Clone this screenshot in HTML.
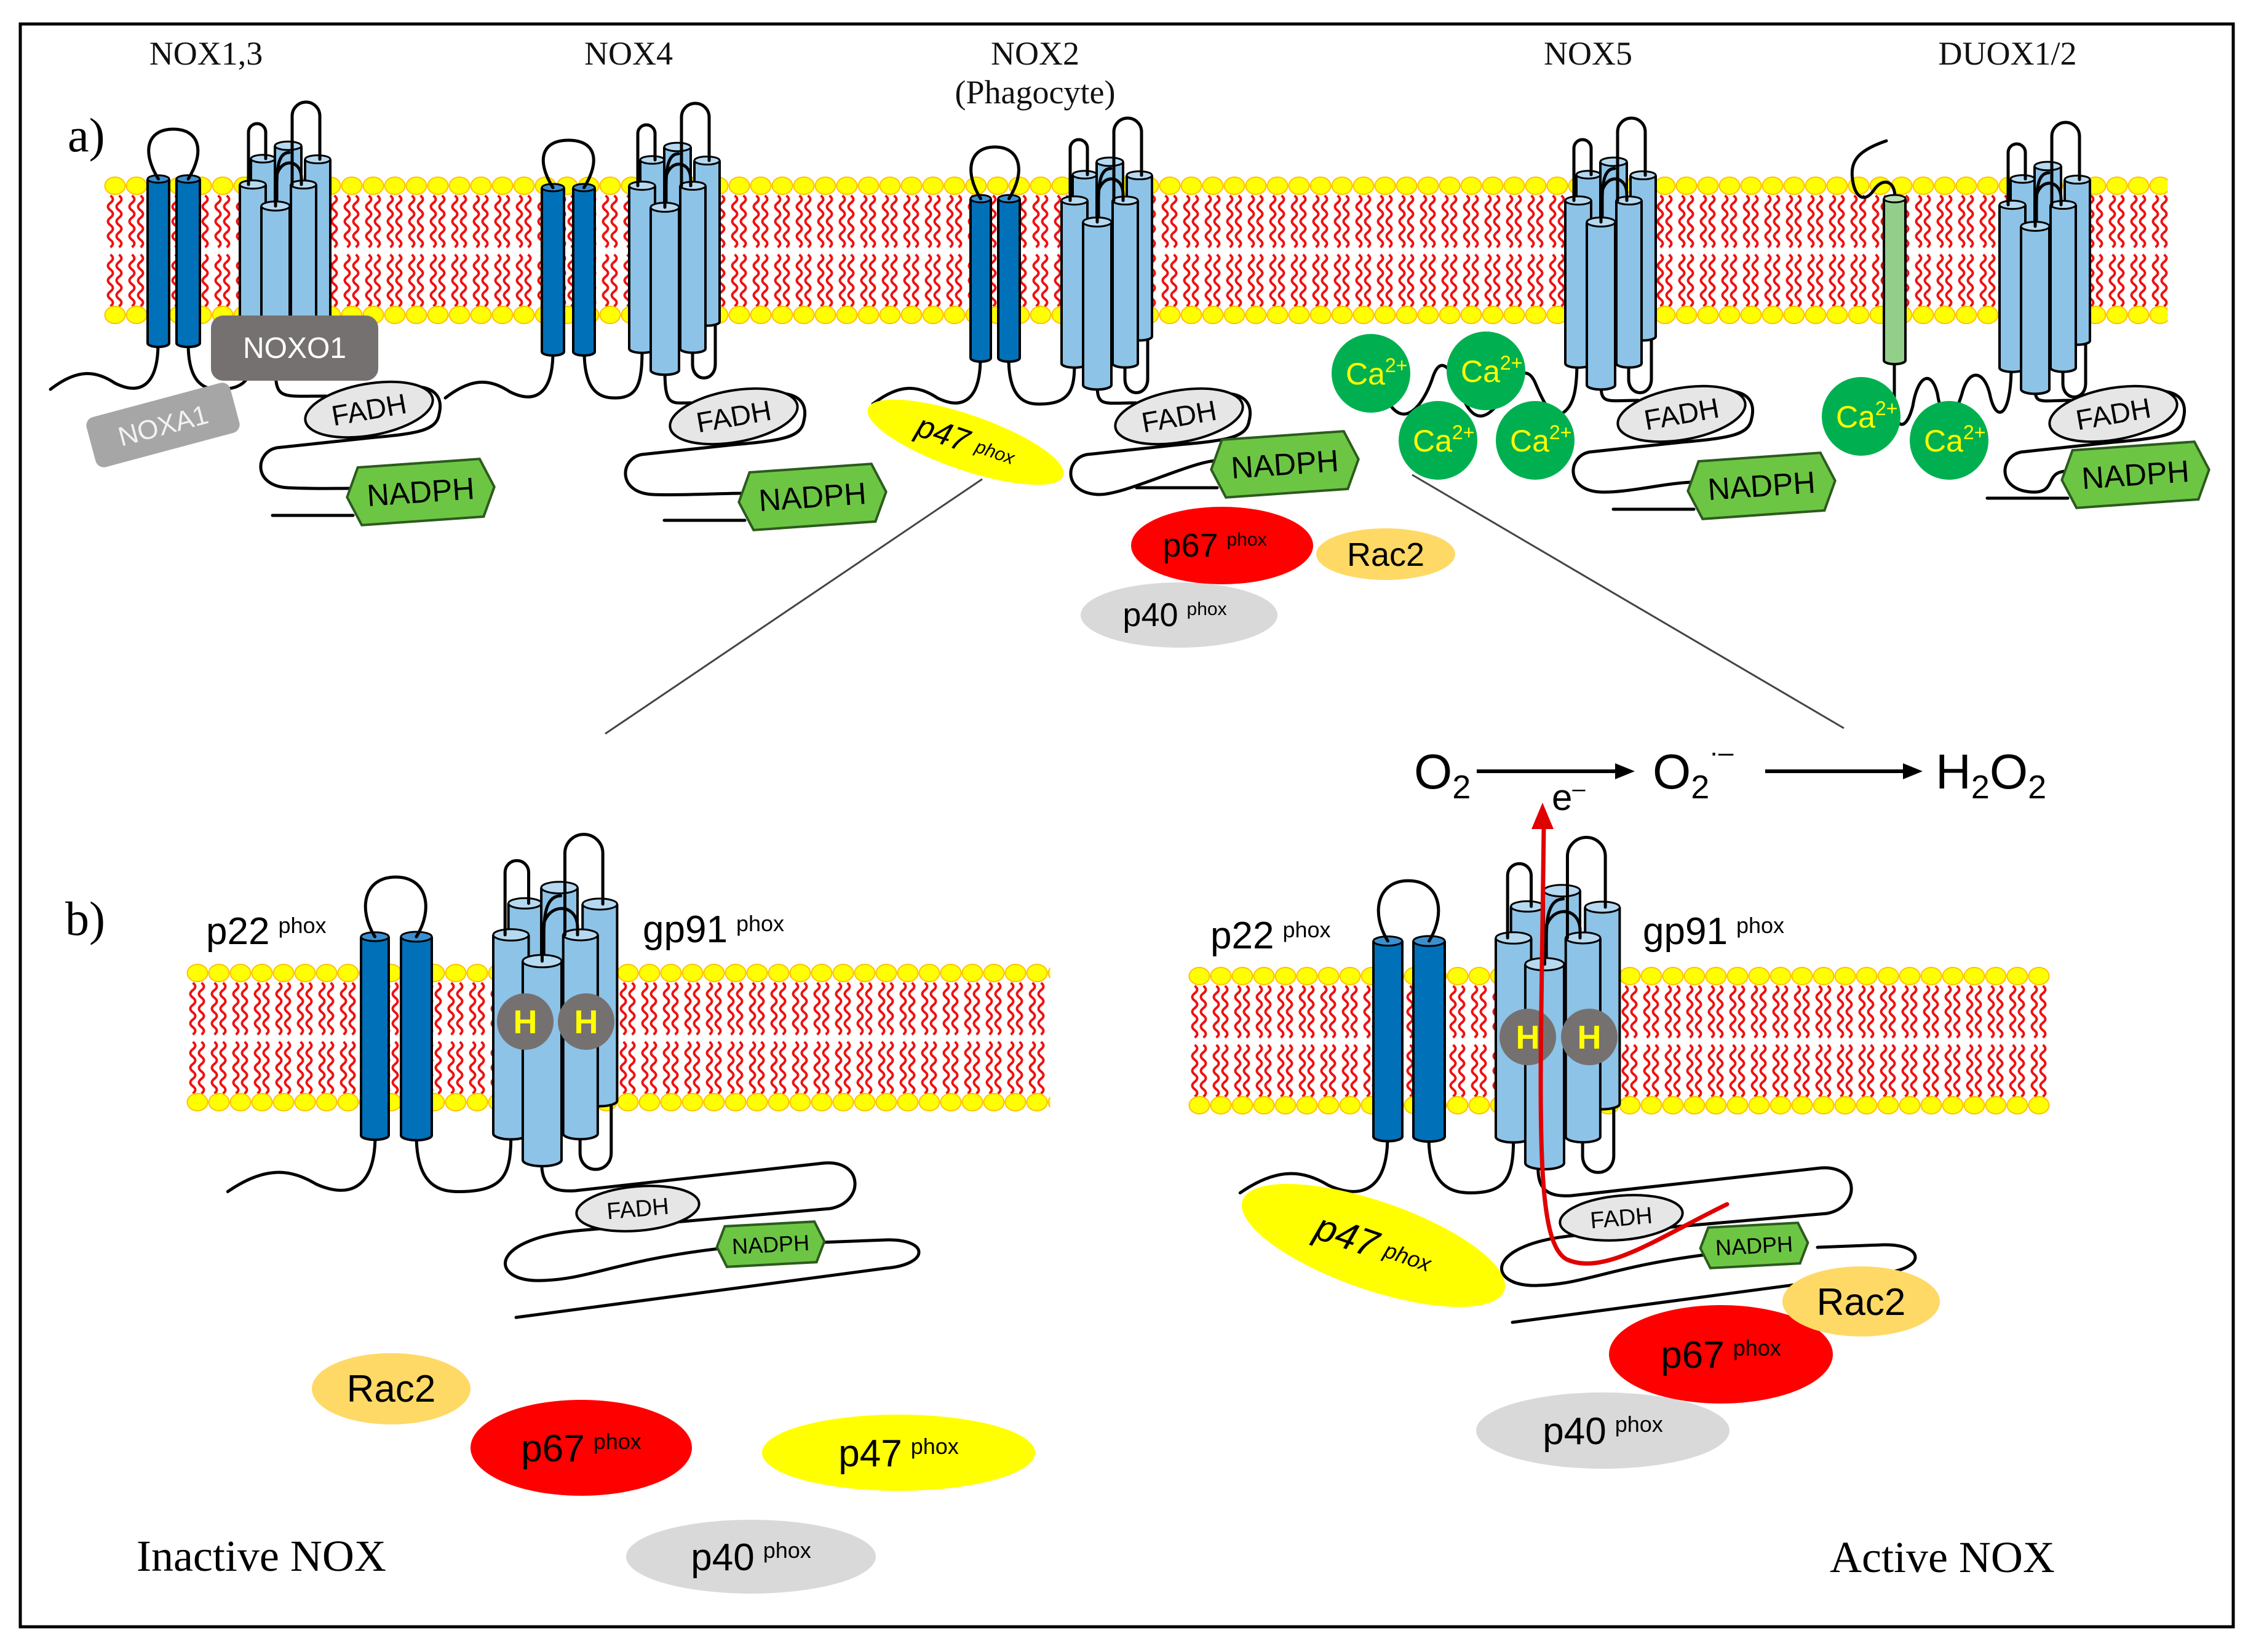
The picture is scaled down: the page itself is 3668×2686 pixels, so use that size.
<!DOCTYPE html>
<html><head><meta charset="utf-8">
<style>
html,body{margin:0;padding:0;background:#fff;}
svg{display:block;}
.sr{font-family:"Liberation Serif",serif;}
.ss{font-family:"Liberation Sans",sans-serif;}
</style></head>
<body>
<svg id="root" xmlns="http://www.w3.org/2000/svg" width="3668" height="2686" viewBox="0 0 3668 2686">
<defs>
<pattern id="mem" patternUnits="userSpaceOnUse" x="0" y="0" width="35" height="250">
<path d="M10 36 q8 6 0 12 q-8 6 0 12 q8 6 0 12 q-8 6 0 12 q8 6 0 12 q-8 6 0 12 q8 6 0 12 M24 36 q8 6 0 12 q-8 6 0 12 q8 6 0 12 q-8 6 0 12 q8 6 0 12 q-8 6 0 12 q8 6 0 12 M10 132 q8 6 0 12 q-8 6 0 12 q8 6 0 12 q-8 6 0 12 q8 6 0 12 q-8 6 0 12 q8 6 0 12 M24 132 q8 6 0 12 q-8 6 0 12 q8 6 0 12 q-8 6 0 12 q8 6 0 12 q-8 6 0 12 q8 6 0 12" fill="none" stroke="#ee1111" stroke-width="4"/>
<ellipse cx="17.5" cy="20" rx="16.5" ry="14" fill="#ffff00" stroke="#ffc000" stroke-width="2"/>
<ellipse cx="17.5" cy="230" rx="16.5" ry="14" fill="#ffff00" stroke="#ffc000" stroke-width="2"/>
</pattern>
</defs>
<rect x="0" y="0" width="3668" height="2686" fill="#fff"/>
<rect x="33" y="39" width="3598" height="2606" fill="none" stroke="#000" stroke-width="5"/>
<g id="shapes"></g>
<g id="txt">
<g class="sr" font-size="54" text-anchor="middle" fill="#111">
<text x="335" y="105">NOX1,3</text>
<text x="1022" y="105">NOX4</text>
<text x="1683" y="105">NOX2</text>
<text x="1683" y="168">(Phagocyte)</text>
<text x="2582" y="105">NOX5</text>
<text x="3264" y="105">DUOX1/2</text>
</g>
<text class="sr" x="110" y="246" font-size="78">a)</text>
<text class="sr" x="106" y="1520" font-size="78">b)</text>
<text class="sr" x="222" y="2554" font-size="72">Inactive NOX</text>
<text class="sr" x="2975" y="2556" font-size="72">Active NOX</text>

<g class="ss">
<text x="479" y="582" font-size="48" fill="#fff" text-anchor="middle">NOXO1</text>
<text transform="translate(265,691) rotate(-15)" x="0" y="16" font-size="44" fill="#f2f2f2" text-anchor="middle">NOXA1</text>

<text transform="translate(600,666) rotate(-10)" y="16" font-size="46" text-anchor="middle">FADH</text>
<text transform="translate(1193,677) rotate(-10)" y="16" font-size="46" text-anchor="middle">FADH</text>
<text transform="translate(1917,677) rotate(-10)" y="16" font-size="46" text-anchor="middle">FADH</text>
<text transform="translate(2734,673) rotate(-10)" y="16" font-size="46" text-anchor="middle">FADH</text>
<text transform="translate(3436,673) rotate(-10)" y="16" font-size="46" text-anchor="middle">FADH</text>

<text transform="translate(684,800) rotate(-4)" y="17" font-size="50" text-anchor="middle">NADPH</text>
<text transform="translate(1321,808) rotate(-4)" y="17" font-size="50" text-anchor="middle">NADPH</text>
<text transform="translate(2089,755) rotate(-4)" y="17" font-size="50" text-anchor="middle">NADPH</text>
<text transform="translate(2864,790) rotate(-4)" y="17" font-size="50" text-anchor="middle">NADPH</text>
<text transform="translate(3472,772) rotate(-4)" y="17" font-size="50" text-anchor="middle">NADPH</text>

<text transform="translate(1037,1965) rotate(-5)" y="13" font-size="38" text-anchor="middle">FADH</text>
<text transform="translate(1253,2023) rotate(-3)" y="13" font-size="36" text-anchor="middle">NADPH</text>
<text transform="translate(2636,1980) rotate(-5)" y="13" font-size="38" text-anchor="middle">FADH</text>
<text transform="translate(2852,2025) rotate(-3)" y="13" font-size="36" text-anchor="middle">NADPH</text>

<text transform="translate(1570,719) rotate(19)" y="16" font-size="52" text-anchor="middle" font-style="italic">p47<tspan font-size="30" dx="14" dy="-6">phox</tspan></text>
<text x="1975" y="905" font-size="54" text-anchor="middle">p67<tspan font-size="30" dx="14" dy="-18">phox</tspan></text>
<text x="2253" y="920" font-size="54" text-anchor="middle">Rac2</text>
<text x="1910" y="1018" font-size="54" text-anchor="middle">p40<tspan font-size="30" dx="14" dy="-18">phox</tspan></text>

<text x="335" y="1535" font-size="62">p22<tspan font-size="36" dx="14" dy="-18">phox</tspan></text>
<text x="1045" y="1532" font-size="62">gp91<tspan font-size="36" dx="14" dy="-18">phox</tspan></text>
<text x="1968" y="1542" font-size="62">p22<tspan font-size="36" dx="14" dy="-18">phox</tspan></text>
<text x="2671" y="1535" font-size="62">gp91<tspan font-size="36" dx="14" dy="-18">phox</tspan></text>

<text x="636" y="2279" font-size="62" text-anchor="middle">Rac2</text>
<text x="945" y="2376" font-size="62" text-anchor="middle">p67<tspan font-size="36" dx="14" dy="-20">phox</tspan></text>
<text x="1461" y="2384" font-size="62" text-anchor="middle">p47<tspan font-size="36" dx="14" dy="-20">phox</tspan></text>
<text x="1221" y="2553" font-size="62" text-anchor="middle">p40<tspan font-size="36" dx="14" dy="-20">phox</tspan></text>

<text transform="translate(2233,2025) rotate(19)" y="20" font-size="62" text-anchor="middle" font-style="italic">p47<tspan font-size="36" dx="14" dy="-8">phox</tspan></text>
<text x="3026" y="2138" font-size="62" text-anchor="middle">Rac2</text>
<text x="2798" y="2224" font-size="62" text-anchor="middle">p67<tspan font-size="36" dx="14" dy="-20">phox</tspan></text>
<text x="2606" y="2348" font-size="62" text-anchor="middle">p40<tspan font-size="36" dx="14" dy="-20">phox</tspan></text>

<g fill="#ffff00" font-size="54" font-weight="bold" text-anchor="middle">
<text x="854" y="1680">H</text><text x="953" y="1680">H</text>
<text x="2484" y="1705">H</text><text x="2584" y="1705">H</text>
</g>

<g fill="#ffff00" font-size="50">
<text x="2188" y="625">Ca<tspan font-size="32" dy="-20">2+</tspan></text>
<text x="2375" y="621">Ca<tspan font-size="32" dy="-20">2+</tspan></text>
<text x="2297" y="734">Ca<tspan font-size="32" dy="-20">2+</tspan></text>
<text x="2455" y="734">Ca<tspan font-size="32" dy="-20">2+</tspan></text>
<text x="2985" y="695">Ca<tspan font-size="32" dy="-20">2+</tspan></text>
<text x="3128" y="734">Ca<tspan font-size="32" dy="-20">2+</tspan></text>
</g>

<text x="2299" y="1282" font-size="80">O<tspan font-size="54" dy="16">2</tspan></text>
<text x="2687" y="1282" font-size="80">O<tspan font-size="54" dy="16">2</tspan><tspan font-size="44" dy="-60">·–</tspan></text>
<text x="3147" y="1282" font-size="80">H<tspan font-size="54" dy="16">2</tspan><tspan dy="-16">O</tspan><tspan font-size="54" dy="16">2</tspan></text>
<text x="2523" y="1317" font-size="60">e<tspan font-size="38" dy="-22">–</tspan></text>
</g>
</g>
</svg>
<script>
(function(){
const S=[];
const P=(d,w,c,f)=>S.push(`<path d="${d}" fill="${f||'none'}" stroke="${c||'#000'}" stroke-width="${w||5}" stroke-linecap="round" stroke-linejoin="round"/>`);
function mem(x1,x2,y){S.push(`<g transform="translate(${x1-17.5},${y-20})"><rect x="0" y="0" width="${x2-x1+35}" height="250" fill="url(#mem)"/></g>`);}
function cyl(x1,x2,t,b,fill,cap){const w=x2-x1,r=w/2,ry=Math.max(6,w*0.16);
S.push(`<path d="M${x1},${t} V${b} A${r},${ry} 0 0 0 ${x2},${b} V${t}" fill="${fill}" stroke="#000" stroke-width="4"/><ellipse cx="${x1+r}" cy="${t}" rx="${r}" ry="${ry}" fill="${cap}" stroke="#000" stroke-width="3"/>`);}
const LB='#8dc3e7',LC='#b5d9f0',DB='#0070b8',DC='#3b8fcf';
function hair(x1,x2,top,b1,b2){const r=(x2-x1)/2;P(`M${x1},${b1} V${top+r} A${r},${r} 0 0 1 ${x2},${top+r} V${b2}`,5);}
function cluster(L,T,s,sy){const X=v=>L+v*s,Y=v=>T+v*sy;
 P(`M${X(103)},${Y(265)} V${Y(290)} C${X(103)},${Y(320)} ${X(140)},${Y(320)} ${X(140)},${Y(290)} V${Y(221)}`,5);
 cyl(X(18),X(57),Y(-42),Y(230),LB,LC);cyl(X(57),X(100),Y(-63),Y(230),LB,LC);cyl(X(106),X(147),Y(-41),Y(221),LB,LC);
 cyl(X(0),X(42),Y(0),Y(265),LB,LC);cyl(X(83),X(124),Y(0),Y(265),LB,LC);
 hair(X(14),X(42),Y(-99),Y(0),Y(-42));hair(X(85),X(130),Y(-134),Y(0),Y(-41));
 P(`M${X(80)},${Y(-52)} C${X(64)},${Y(-52)} ${X(60)},${Y(-30)} ${X(60)},${Y(0)} V${Y(35)}`,5);
 cyl(X(35),X(81),Y(35),Y(300),LB,LC);
 P(`M${X(58)},${Y(35)} V${Y(0)} C${X(58)},${Y(-45)} ${X(100)},${Y(-45)} ${X(100)},${Y(-10)} V${Y(0)}`,5);
}
function p22(a1,a2,b1,b2,t,b,lt){cyl(a1,a2,t,b,DB,DC);cyl(b1,b2,t,b,DB,DC);const c1=(a1+a2)/2,c2=(b1+b2)/2;
 P(`M${c1},${t} C${c1-28},${t-45} ${c1-18},${lt} ${(c1+c2)/2},${lt} C${c2+18},${lt} ${c2+28},${t-45} ${c2},${t}`,5);}
function tailA(fx,fy,nx,ny,lx,ly){
 P(`M${lx},${ly} C${lx},${fy-15} ${lx+10},${fy-22} ${fx-70},${fy-22}`,5);
 P(`M${fx+40},${fy-34} C${fx+100},${fy-46} ${fx+122},${fy-26} ${fx+114},${fy+7} C${fx+110},${fy+34} ${fx+80},${fy+39} ${fx},${fy+46} L${fx-150},${fy+62} C${fx-185},${fy+69} ${fx-190},${fy+124} ${fx-132},${fy+127} C${fx-90},${fy+129} ${nx-150},${ny-6} ${nx-110},${ny-6}`,5);
 P(`M${nx-241},${ny+38} L${nx-110},${ny+38}`,5);}
function p22tail(pl,pr,pb,L,T,s,sy){s=s||1;sy=sy||1;
 P(`M${pl-175*s},${pb+75*sy} C${pl-130*s},${pb+40*sy} ${pl-100*s},${pb+45*sy} ${pl-70*s},${pb+65*sy} C${pl-30*s},${pb+85*sy} ${pl},${pb+70*sy} ${pl},${pb}`,5);
 P(`M${pr},${pb} C${pr},${pb+70*sy} ${pr+30*s},${pb+75*sy} ${pr+50*s},${pb+75*sy} C${L+15*s},${pb+75*sy} ${L+21*s},${pb+50*sy} ${L+21*s},${T+265*sy}`,5);}
function hexa(cx,cy,w,h,rot,fs){const a=w/2,b=h/2,k=h*0.22;
 S.push(`<polygon transform="translate(${cx},${cy}) rotate(${rot})" points="${-a},0 ${-a+k},${-b} ${a-k},${-b} ${a},0 ${a-k},${b} ${-a+k},${b}" fill="#6cc644" stroke="#2d5a1e" stroke-width="4"/>`);}
function ell(cx,cy,rx,ry,f,rot,st){S.push(`<ellipse transform="translate(${cx},${cy}) rotate(${rot||0})" cx="0" cy="0" rx="${rx}" ry="${ry}" fill="${f}" ${st?'stroke="#000" stroke-width="4"':''}/>`);}

mem(187,3507,302);mem(321,1690,1582);mem(1950,3315,1587);
tailA(600,666,684,800,448,600);tailA(1193,677,1321,808,1081,602);tailA(1917,677,2089,755,1784,626);
tailA(2734,673,2864,790,2603,626);tailA(3436,673,3472,772,3309,633);
p22tail(257,306,558,390,300);p22tail(899,950,572,1023,302);p22tail(1594,1640,582,1726,326);
P('M2255,650 C2285,705 2318,650 2330,612 C2345,570 2365,610 2380,650 C2398,690 2420,680 2440,650 C2460,615 2480,590 2495,620 C2508,650 2520,680 2540,672 C2560,660 2564,630 2564,586',5);
P('M3080,586 V660 C3082,700 3100,700 3110,660 C3118,610 3140,600 3150,640 C3158,690 3175,690 3190,640 C3200,600 3225,600 3235,640 C3245,690 3270,680 3270,596',5);
function btail(dx,dy){
 P(`M${881+dx},${1884+dy} C${878+dx},${1930+dy} ${900+dx},${1938+dy} ${935+dx},${1936+dy} L${1340+dx},${1891+dy} C${1405+dx},${1886+dy} ${1405+dx},${1955+dy} ${1350+dx},${1965+dy} L${950+dx},${2000+dy} C${790+dx},${2012+dy} ${795+dx},${2085+dy} ${880+dx},${2082+dy} C${960+dx},${2080+dy} ${1000+dx},${2050+dy} ${1170+dx},${2030+dy}`,5);
 P(`M${839+dx},${2142+dy} L${1440+dx},${2062+dy} C${1512+dx},${2056+dy} ${1512+dx},${2014+dy} ${1440+dx},${2016+dy} L${1335+dx},${2020+dy}`,5);}
btail(0,0);btail(1620,8);
p22tail(610,677,1846,802,1520,1.37,1.22);p22tail(2256,2323,1848,2432,1525,1.37,1.22);
p22(240,275,287,325,291,558,210);p22(881,917,932,967,305,572,228);p22(1578,1611,1623,1658,323,582,239);
cluster(390,300,1,1);cluster(1023,302,1,1);cluster(1726,326,1,1);cluster(2545,326,1,1);cluster(3251,333,1,1);
P('M3067,229 C3020,245 3008,262 3012,292 C3016,322 3032,330 3046,310 C3060,288 3082,292 3081,323',5);
cyl(3063,3098,323,586,'#93cf8b','#b8e0b2');
p22(587,632,652,702,1523,1846,1426);p22(2233,2280,2298,2349,1530,1848,1432);
cluster(802,1520,1.37,1.22);cluster(2432,1525,1.37,1.22);
[[854,1661],[953,1661],[2484,1686],[2584,1686]].forEach(([x,y])=>S.push(`<circle cx="${x}" cy="${y}" r="46" fill="#767171"/>`));
[[600,666],[1193,677],[1917,677],[2734,673],[3436,673]].forEach(([x,y])=>ell(x,y,105,42,'#e7e6e6',-10,1));
[[684,800],[1321,808],[2089,755],[2864,790],[3472,772]].forEach(([x,y])=>hexa(x,y,240,94,-4));
ell(1037,1965,100,36,'#e7e6e6',-5,1);ell(2636,1980,100,36,'#e7e6e6',-5,1);
hexa(1253,2023,175,66,-3);hexa(2852,2025,175,66,-3);
S.push('<rect x="343" y="513" width="272" height="106" rx="20" fill="#767171"/>');
S.push('<g transform="translate(265,691) rotate(-15)"><rect x="-121" y="-42" width="242" height="84" rx="14" fill="#a6a6a6"/></g>');
ell(1570,719,168,45,'#ffff00',19);
ell(2253,901,113,42,'#ffd966');ell(1917,1000,160,53,'#d9d9d9');ell(1987,887,148,63,'#ff0000');
[[2229,607],[2416,603],[2338,716],[2496,716],[3026,677],[3169,716]].forEach(([x,y])=>S.push(`<circle cx="${x}" cy="${y}" r="64" fill="#00b050"/>`));
ell(636,2258,129,58,'#ffd966');ell(945,2354,180,78,'#ff0000');ell(1461,2362,222,62,'#ffff00');ell(1221,2531,203,60,'#d9d9d9');
ell(2233,2025,225,72,'#ffff00',19);
ell(2606,2326,206,62,'#d9d9d9');ell(2798,2202,182,80,'#ff0000');ell(3026,2116,128,57,'#ffd966');
S.push('<line x1="1597" y1="779" x2="984" y2="1193" stroke="#444" stroke-width="3"/>');
S.push('<line x1="2296" y1="772" x2="2998" y2="1184" stroke="#444" stroke-width="3"/>');
S.push('<line x1="2401" y1="1254" x2="2630" y2="1254" stroke="#000" stroke-width="6"/><polygon points="2658,1254 2626,1241 2626,1267" fill="#000"/>');
S.push('<line x1="2870" y1="1254" x2="3098" y2="1254" stroke="#000" stroke-width="6"/><polygon points="3126,1254 3094,1241 3094,1267" fill="#000"/>');
P('M2808,1958 C2700,2010 2610,2075 2548,2048 C2492,2020 2505,1800 2510,1345',7,'#e00000');
S.push('<polygon points="2508,1305 2490,1348 2526,1348" fill="#e00000"/>');
document.getElementById('shapes').innerHTML=S.join('');
})();
</script>
</body></html>
